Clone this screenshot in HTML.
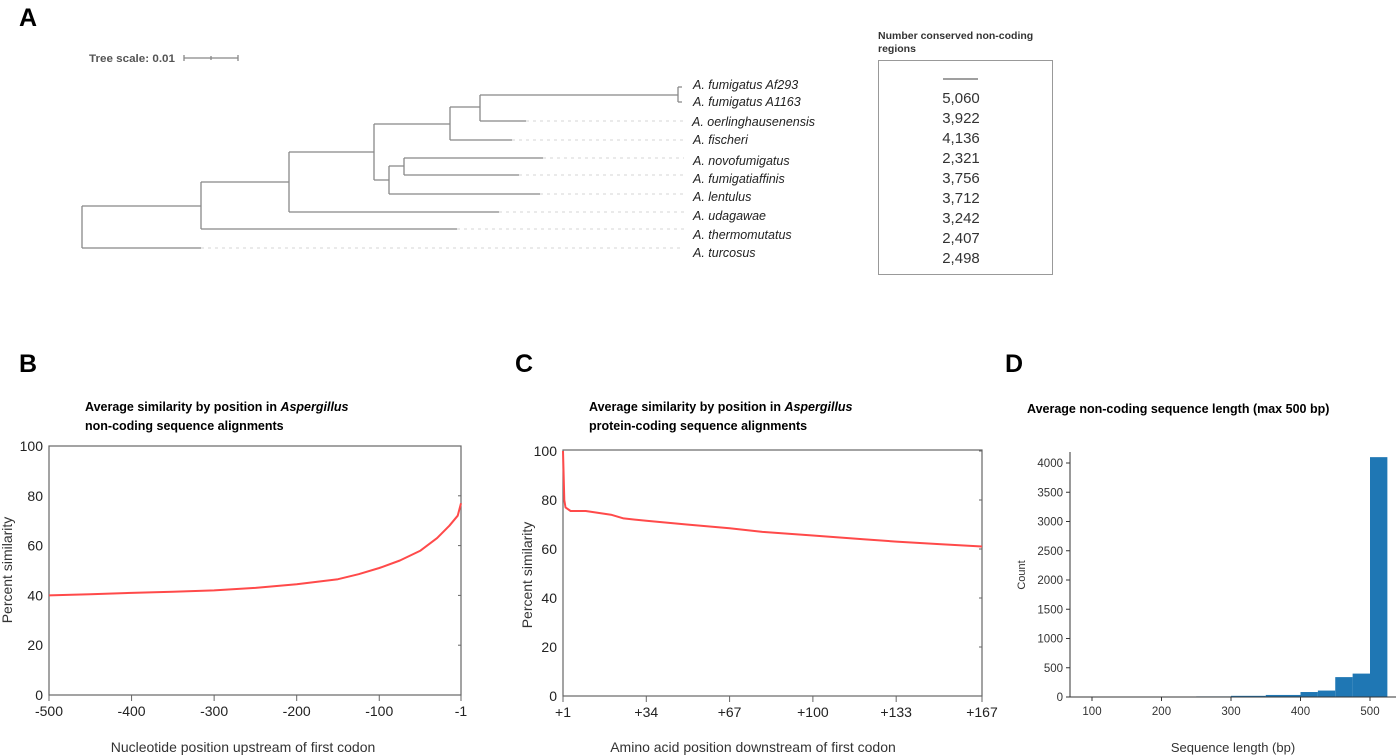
<!DOCTYPE html>
<html><head><meta charset="utf-8"><style>
html,body{margin:0;padding:0;background:#fff;width:1396px;height:756px;overflow:hidden}
svg{display:block;font-family:"Liberation Sans",sans-serif}
</style></head><body>
<svg id="fig" width="1396" height="756" viewBox="0 0 1396 756">
<text x="19" y="26" font-size="25" font-weight="bold">A</text>
<text x="19" y="372" font-size="25" font-weight="bold">B</text>
<text x="515" y="372" font-size="25" font-weight="bold">C</text>
<text x="1005" y="372" font-size="25" font-weight="bold">D</text>

<g stroke="#888" stroke-width="1.3" fill="none">
<text x="89" y="62" font-size="11" font-weight="bold" fill="#555" stroke="none" textLength="86" lengthAdjust="spacingAndGlyphs">Tree scale: 0.01</text>
<path d="M184 58 H238 M184 55 V61 M238 55 V61 M211 56 V60"/>
<path d="M82 206 V248 M82 206 H201 M82 248 H201 M201 182 V229 M201 182 H289 M201 229 H457 M289 152 V212 M289 152 H374 M289 212 H499 M374 124 V180 M374 124 H450 M374 180 H389 M450 107 V140 M450 107 H480 M450 140 H512 M480 95 V121 M480 95 H678 M480 121 H526 M389 166 V194 M389 166 H404 M389 194 H540 M404 158 V175 M404 158 H543 M404 175 H519 M678 87 V102 M678 87 H682 M678 102 H682"/>
<path d="M526 121 H684 M512 140 H684 M543 158 H684 M519 175 H684 M540 194 H684 M499 212 H684 M457 229 H684 M201 248 H684" stroke="#ddd" stroke-dasharray="3,4"/>
</g>
<g font-size="12.5" font-style="italic" fill="#222">
<text x="693" y="89">A. fumigatus Af293</text>
<text x="693" y="106">A. fumigatus A1163</text>
<text x="692" y="126">A. oerlinghausenensis</text>
<text x="693" y="144">A. fischeri</text>
<text x="693" y="165">A. novofumigatus</text>
<text x="693" y="183">A. fumigatiaffinis</text>
<text x="693" y="201">A. lentulus</text>
<text x="693" y="220">A. udagawae</text>
<text x="693" y="239">A. thermomutatus</text>
<text x="693" y="257">A. turcosus</text>
</g>
<g>
<text x="878" y="39" font-size="10.5" font-weight="bold" fill="#333">Number conserved non-coding</text>
<text x="878" y="52" font-size="10.5" font-weight="bold" fill="#333">regions</text>
<rect x="878.5" y="60.5" width="174" height="214" fill="none" stroke="#999"/>
<line x1="943" y1="79" x2="978" y2="79" stroke="#666" stroke-width="1.3"/>
<g font-size="15" fill="#333" text-anchor="middle">
<text x="961" y="103">5,060</text>
<text x="961" y="123">3,922</text>
<text x="961" y="143">4,136</text>
<text x="961" y="163">2,321</text>
<text x="961" y="183">3,756</text>
<text x="961" y="203">3,712</text>
<text x="961" y="223">3,242</text>
<text x="961" y="243">2,407</text>
<text x="961" y="263">2,498</text>
</g></g>

<g id="pb">
<text x="85" y="411" font-size="12.5" font-weight="bold">Average similarity by position in <tspan font-style="italic">Aspergillus</tspan></text>
<text x="85" y="430" font-size="12.5" font-weight="bold">non-coding sequence alignments</text>
<rect x="49" y="446" width="412" height="249" fill="none" stroke="#666" stroke-width="1.2"/>
<text x="243" y="752" font-size="14" fill="#333" text-anchor="middle">Nucleotide position upstream of first codon</text>
<text transform="translate(12,570) rotate(-90)" font-size="14" fill="#333" text-anchor="middle">Percent similarity</text>
</g>
<g id="pc">
<text x="589" y="411" font-size="12.5" font-weight="bold">Average similarity by position in <tspan font-style="italic">Aspergillus</tspan></text>
<text x="589" y="430" font-size="12.5" font-weight="bold">protein-coding sequence alignments</text>
<rect x="563" y="450" width="419" height="246" fill="none" stroke="#666" stroke-width="1.2"/>
<text x="753" y="752" font-size="14" fill="#333" text-anchor="middle">Amino acid position downstream of first codon</text>
<text transform="translate(532,575) rotate(-90)" font-size="14" fill="#333" text-anchor="middle">Percent similarity</text>
</g>
<g id="pd">
<text x="1027" y="413" font-size="12.5" font-weight="bold">Average non-coding sequence length (max 500 bp)</text>
<text x="1233" y="752" font-size="13" fill="#333" text-anchor="middle">Sequence length (bp)</text>
<text transform="translate(1025,575) rotate(-90)" font-size="11" fill="#333" text-anchor="middle">Count</text>
</g>
</svg>
<script>
const NS="http://www.w3.org/2000/svg";
const bPos=[-500,-450,-400,-350,-300,-250,-200,-175,-150,-125,-100,-75,-50,-30,-15,-5,-1];
const bVal=[40,40.5,41,41.5,42,43,44.5,45.5,46.5,48.5,51,54,58,63,68,72,77];
const bTicksX=[-500,-400,-300,-200,-100,-1];
const bTickLabels=["-500","-400","-300","-200","-100","-1"];
const bTicksY=[0,20,40,60,80,100];
const cPos=[1,1.5,2,4,10,20,25,34,50,67,80,100,120,133,150,167];
const cVal=[100,80,77,75.5,75.5,74,72.5,71.5,70,68.5,67,65.5,64,63,62,61];
const cTicksX=[1,34,67,100,133,167];
const cTickLabels=["+1","+34","+67","+100","+133","+167"];
const cTicksY=[0,20,40,60,80,100];
const dBinStart=[250,300,350,400,425,450,475,500];
const dBinEnd=[300,350,400,425,450,475,500,525];
const dCounts=[10,20,35,85,110,340,400,4100];
const dTicksX=[100,200,300,400,500];
const dTicksY=[0,500,1000,1500,2000,2500,3000,3500,4000];

function mk(tag,attrs,parent){const e=document.createElementNS(NS,tag);for(const k in attrs)e.setAttribute(k,attrs[k]);parent.appendChild(e);return e;}

function lineChart(g,pos,val,xMin,xMax,x0,x1,y0,y1,ticksX,tickLabels,ticksY,pfx){
  const sx=v=>x0+(v-xMin)/(xMax-xMin)*(x1-x0);
  const sy=v=>y0-(v/100)*(y0-y1);
  ticksX.forEach((t,i)=>{
    const tk=mk('line',{x1:sx(t),x2:sx(t),y1:y0,y2:y0+6,stroke:'#666'},g);
    
    
    const lb=mk('text',{x:sx(t),y:y0+21,'font-size':14,fill:'#222','text-anchor':'middle'},g);
    lb.textContent=tickLabels[i];
    
    
  });
  ticksY.forEach(t=>{
    const lb=mk('text',{x:x0-6,y:sy(t)+5,'font-size':14,fill:'#222','text-anchor':'end'},g);
    lb.textContent=t;
    
    
    const tk=mk('line',{x1:x1-3,x2:x1,y1:sy(t),y2:sy(t),stroke:'#666'},g);
    
    
  });
  const d=pos.map((p,i)=>(i?'L':'M')+sx(p).toFixed(1)+' '+sy(val[i]).toFixed(1)).join(' ');
  const ln=mk('path',{d:d,fill:'none',stroke:'#ff4a4a','stroke-width':2,'stroke-linejoin':'round'},g);
  
  
}
lineChart(document.getElementById('pb'),bPos,bVal,-500,-1,49,461,695,446,bTicksX,bTickLabels,bTicksY,'chart-b');
lineChart(document.getElementById('pc'),cPos,cVal,1,167,563,982,696,451,cTicksX,cTickLabels,cTicksY,'chart-c');

(function(){
  const g=document.getElementById('pd');
  const sx=v=>1092+(v-100)*(1370-1092)/400;
  const sy=v=>697-v*(697-463)/4000;
  dCounts.forEach((c,i)=>{
    const r=mk('rect',{x:sx(dBinStart[i]),y:sy(c),width:sx(dBinEnd[i])-sx(dBinStart[i]),height:697-sy(c),fill:'#1f77b4'},g);
    
    
  });
  const ax=mk('path',{d:'M1070 452 V697 H1396',fill:'none',stroke:'#333','stroke-width':1},g);
  
  
  dTicksX.forEach(t=>{
    const tk=mk('line',{x1:sx(t),x2:sx(t),y1:697,y2:701,stroke:'#333'},g);
    
    
    const lb=mk('text',{x:sx(t),y:715,'font-size':11.5,fill:'#333','text-anchor':'middle'},g);
    lb.textContent=t;
    
    
  });
  dTicksY.forEach(t=>{
    const tk=mk('line',{x1:1066,x2:1070,y1:sy(t),y2:sy(t),stroke:'#333'},g);
    
    
    const lb=mk('text',{x:1063,y:sy(t)+4,'font-size':11.5,fill:'#333','text-anchor':'end'},g);
    lb.textContent=t;
    
    
  });
})();
</script>
</body></html>
